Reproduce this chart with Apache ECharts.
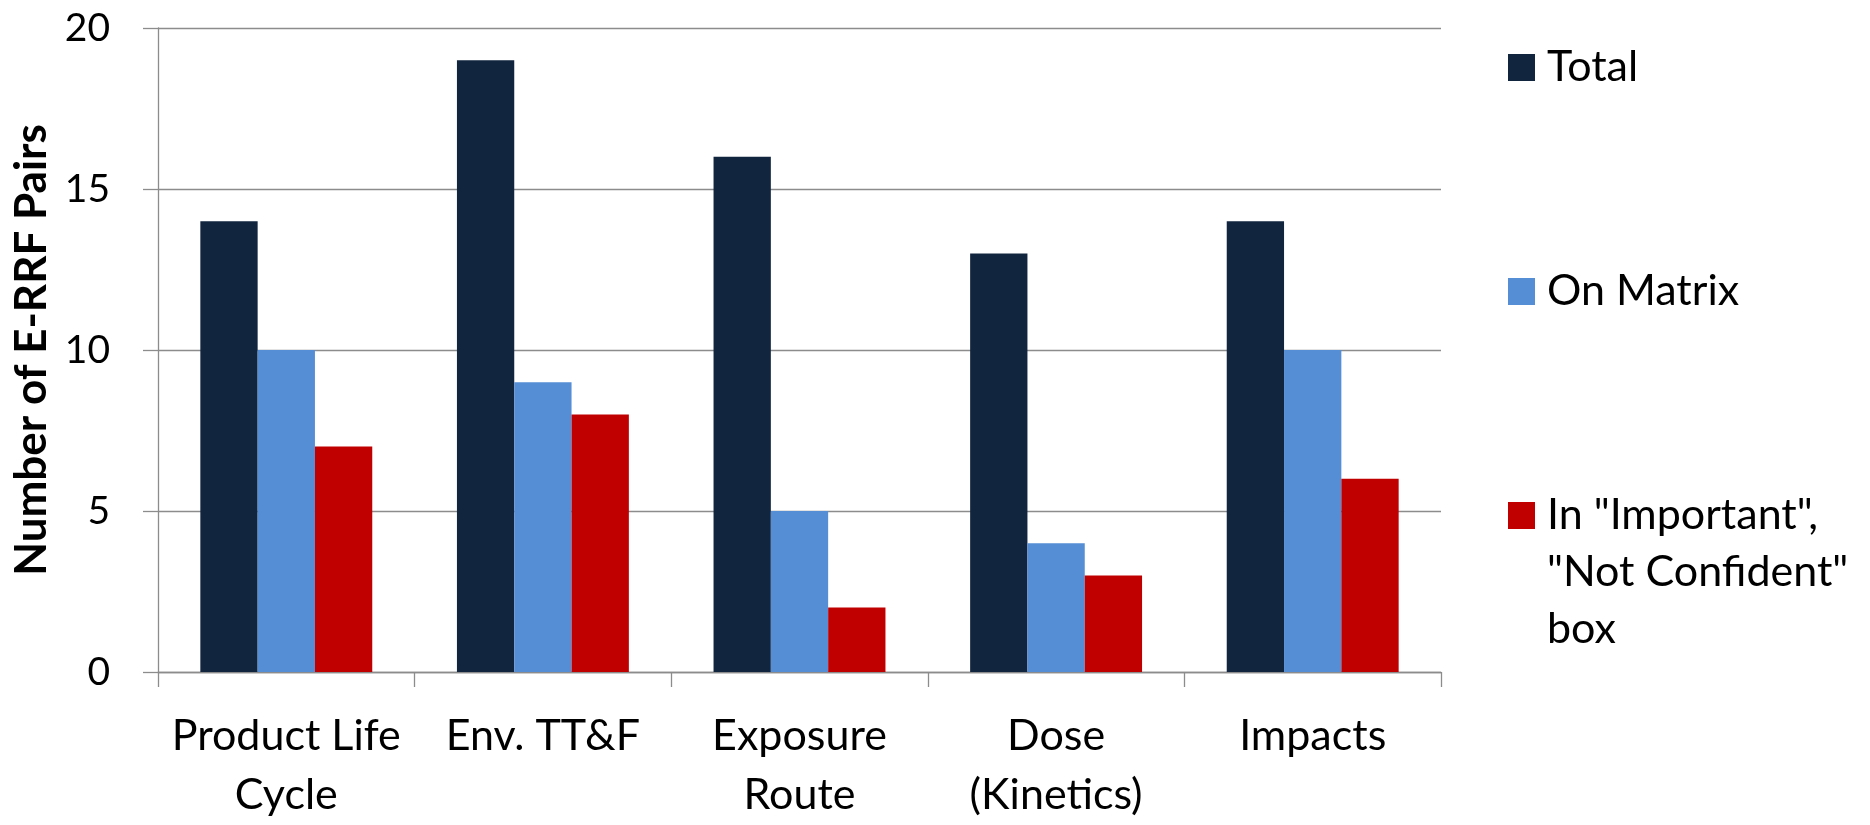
<!DOCTYPE html>
<html>
<head>
<meta charset="utf-8">
<script src="https://cdn.jsdelivr.net/npm/echarts@6/dist/echarts.min.js"></script>
<style>
html,body{margin:0;padding:0;background:#fff;}
#c{width:1870px;height:825px;}
</style>
</head>
<body>
<div id="c"></div>
<script>
const categories = ['Product Life\nCycle', 'Env. TT&F', 'Exposure\nRoute', 'Dose\n(Kinetics)', 'Impacts'];
const seriesNames = ['Total', 'On Matrix', 'In "Important",\n"Not Confident"\nbox'];
const totalValues = [14, 19, 16, 13, 14];
const onMatrixValues = [10, 9, 5, 4, 10];
const importantValues = [7, 8, 2, 3, 6];
const yTicks = { min: 0, max: 20, interval: 5 };
const colors = ['#12253F', '#558ED5', '#C00000'];

const FONT = 'Lato';
const GRID_COLOR = '#8c8c8c';

const chart = echarts.init(document.getElementById('c'), null, { renderer: 'canvas' });

function legendFor(idx, top, prefix) {
  return {
    data: [seriesNames[idx]],
    orient: 'vertical',
    left: 1508,
    top: top,
    padding: 0,
    itemWidth: 27,
    itemHeight: 27,
    icon: 'rect',
    selectedMode: false,
    formatter: function (n) { return prefix + n; },
    textStyle: {
      fontFamily: FONT,
      fontSize: 43,
      color: '#000',
      lineHeight: idx === 2 ? 57 : 27,
      padding: [0, 0, 0, 7]
    }
  };
}

const option = {
  animation: false,
  backgroundColor: '#fff',
  grid: { left: 158, right: 429, top: 28, bottom: 143, containLabel: false },
  legend: [
    legendFor(0, 46, ''),
    legendFor(1, 270, ''),
    legendFor(2, 373, '\n\n')
  ],
  xAxis: {
    type: 'category',
    data: categories,
    axisLine: { show: true, lineStyle: { color: GRID_COLOR, width: 1.3 } },
    axisTick: { show: true, length: 15, alignWithLabel: false, lineStyle: { color: GRID_COLOR, width: 1.3 } },
    axisLabel: {
      interval: 0,
      margin: 35,
      fontFamily: FONT,
      fontSize: 43,
      lineHeight: 59,
      color: '#000'
    },
    splitLine: { show: false }
  },
  yAxis: {
    type: 'value',
    min: yTicks.min,
    max: yTicks.max,
    interval: yTicks.interval,
    name: 'Number of E-RRF Pairs',
    nameLocation: 'middle',
    nameGap: 100,
    nameRotate: 90,
    nameTextStyle: { fontFamily: FONT, fontSize: 44, fontWeight: 'bold', color: '#000' },
    axisLine: { show: true, lineStyle: { color: GRID_COLOR, width: 1.3 } },
    axisTick: { show: true, length: 15, lineStyle: { color: GRID_COLOR, width: 1.3 } },
    axisLabel: { margin: 48, fontFamily: FONT, fontSize: 39, color: '#000' },
    splitLine: { show: true, lineStyle: { color: GRID_COLOR, width: 1.3 } }
  },
  series: [
    { name: seriesNames[0], type: 'bar', data: totalValues, itemStyle: { color: colors[0] }, barGap: '0%', barCategoryGap: '33%' },
    { name: seriesNames[1], type: 'bar', data: onMatrixValues, itemStyle: { color: colors[1] }, barGap: '0%', barCategoryGap: '33%' },
    { name: seriesNames[2], type: 'bar', data: importantValues, itemStyle: { color: colors[2] }, barGap: '0%', barCategoryGap: '33%' }
  ]
};
chart.setOption(option);
</script>
</body>
</html>
